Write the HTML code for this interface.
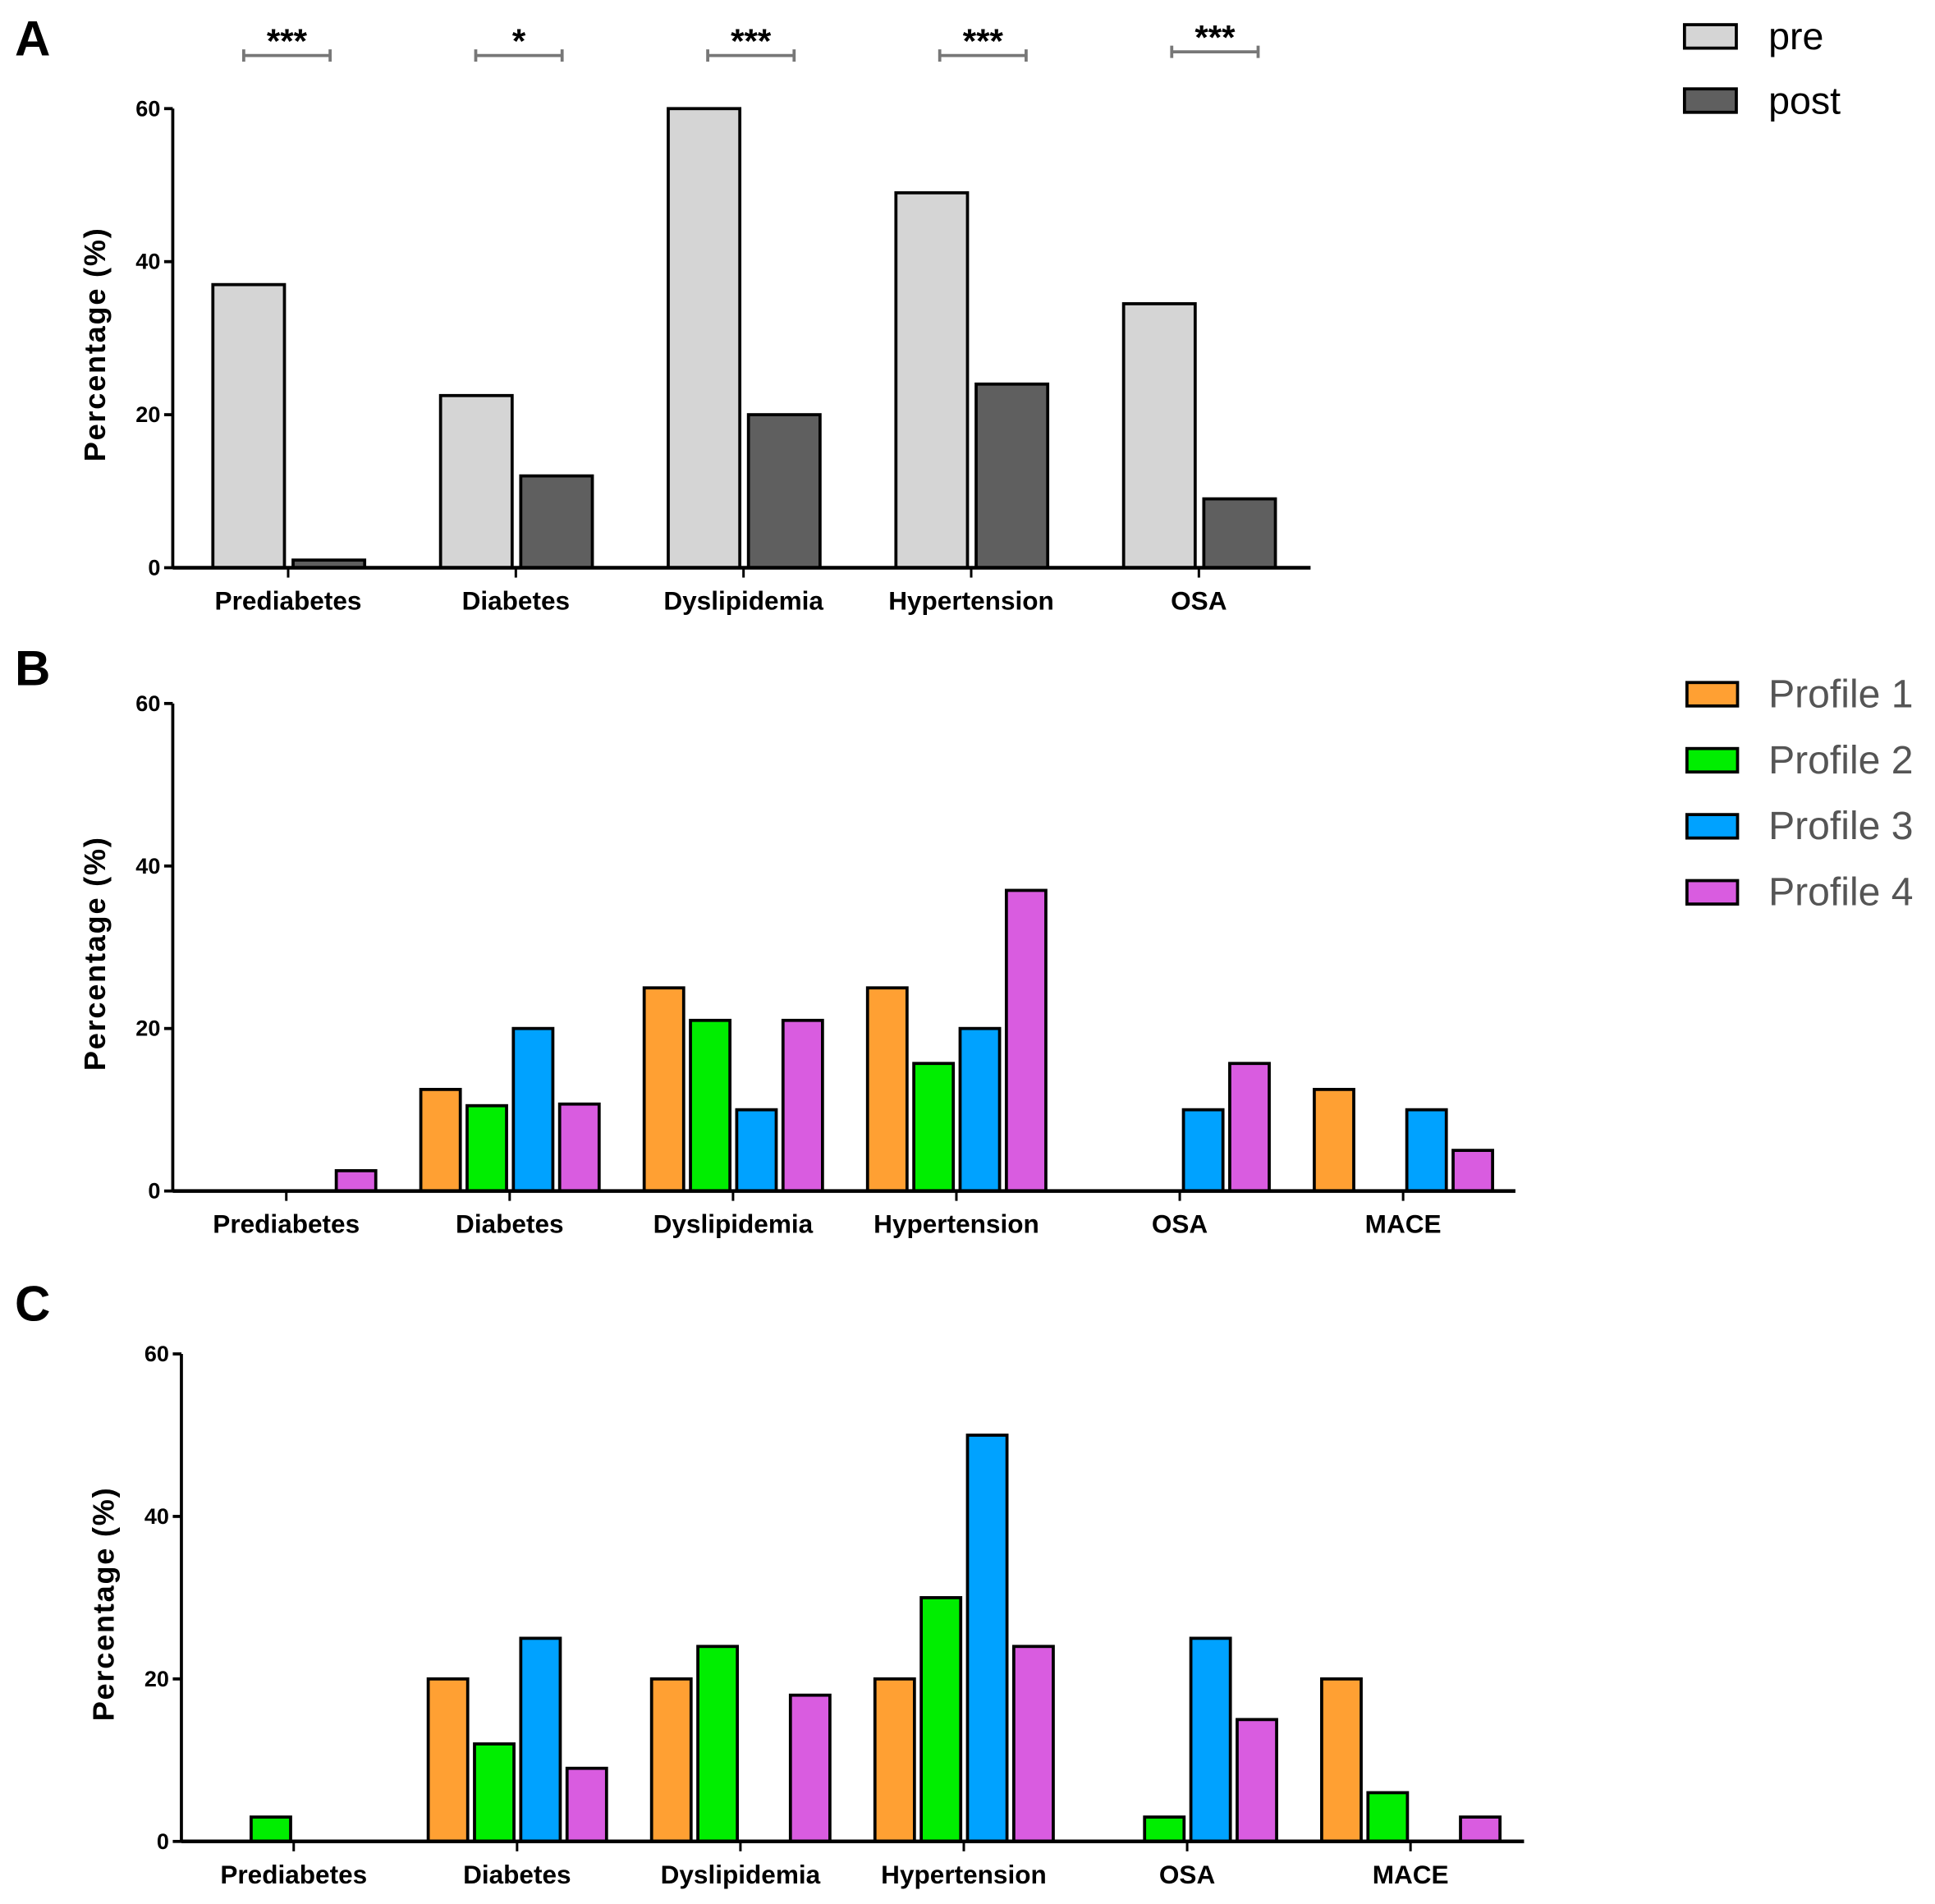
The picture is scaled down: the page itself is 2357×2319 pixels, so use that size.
<!DOCTYPE html>
<html><head><meta charset="utf-8"><style>
html,body{margin:0;padding:0;background:#fff;}
svg{display:block;font-family:"Liberation Sans",Arial,sans-serif;}
</style></head><body>
<svg id="chart" width="2357" height="2319" viewBox="0 0 1568 1542.7" preserveAspectRatio="none" xmlns="http://www.w3.org/2000/svg"></svg>
<script>
const catsA = ["Prediabetes","Diabetes","Dyslipidemia","Hypertension","OSA"];
const preVals = [37, 22.5, 60, 49, 34.5];
const postVals = [1, 12, 20, 24, 9];
const sigLabels = ["***","*","***","***","***"];
const cats6 = ["Prediabetes","Diabetes","Dyslipidemia","Hypertension","OSA","MACE"];
const profileNames = ["Profile 1","Profile 2","Profile 3","Profile 4"];
const b1 = [0, 12.5, 25, 25, 0, 12.5];
const b2 = [0, 10.5, 21, 15.7, 0, 0];
const b3 = [0, 20, 10, 20, 10, 10];
const b4 = [2.5, 10.7, 21, 37, 15.7, 5];
const c1 = [0, 20, 20, 20, 0, 20];
const c2 = [3, 12, 24, 30, 3, 6];
const c3 = [0, 25, 0, 50, 25, 0];
const c4 = [0, 9, 18, 24, 15, 3];
const yTicks = [0, 20, 40, 60];

const NS = "http://www.w3.org/2000/svg";
const svg = document.getElementById("chart");
function mk(tag, attrs, parent, text) {
  const e = document.createElementNS(NS, tag);
  for (const k in attrs) e.setAttribute(k, attrs[k]);
  if (text !== undefined) e.textContent = text;
  (parent || svg).appendChild(e);
  return e;
}

function panel(cfg) {
  const g = mk("g", {});
  
  
  const y = v => cfg.y0 - (v / 60) * (cfg.y0 - cfg.y60);
  const xc = i => cfg.c0 + i * cfg.step;
  const L = mk("text", {x: 12, y: cfg.letterY, "font-size": 40, "font-weight": "bold"}, g, cfg.letter);
  
  
  const t = mk("text", {transform: `translate(${cfg.axX - 55},${(cfg.y0 + cfg.y60) / 2 + 5}) rotate(-90)`, "text-anchor": "middle", "font-size": 24, "font-weight": "bold", "letter-spacing": 1.2}, g, "Percentage (%)");
  
  
  cfg.series.forEach((vals, s) => {
    vals.forEach((v, i) => {
      if (v <= 0) return;
      const x = xc(i) + cfg.offsets[s] - cfg.bw / 2;
      const r = mk("rect", {x: x, y: y(v), width: cfg.bw, height: cfg.y0 - y(v), fill: cfg.colors[s], stroke: "#000", "stroke-width": 2.5}, g);
      
      
    });
  });
  const ya = mk("line", {x1: cfg.axX, y1: cfg.y60, x2: cfg.axX, y2: cfg.y0, stroke: "#000", "stroke-width": 2.5}, g);
  
  
  const xa = mk("line", {x1: cfg.axX, y1: cfg.y0, x2: cfg.axEnd, y2: cfg.y0, stroke: "#000", "stroke-width": 3}, g);
  
  
  yTicks.forEach(v => {
    mk("line", {x1: cfg.axX - 7, y1: y(v), x2: cfg.axX, y2: y(v), stroke: "#000", "stroke-width": 2.5}, g);
    const tl = mk("text", {x: cfg.axX - 10, y: y(v) + 6, "text-anchor": "end", "font-size": 18, "font-weight": "bold"}, g, v);
    
    
  });
  cfg.cats.forEach((c, i) => {
    mk("line", {x1: xc(i), y1: cfg.y0, x2: xc(i), y2: cfg.y0 + 8, stroke: "#000", "stroke-width": 2}, g);
    const cl = mk("text", {x: xc(i), y: cfg.y0 + 34, "text-anchor": "middle", "font-size": 21, "font-weight": "bold"}, g, c);
    
    
  });
  return {g, y, xc};
}

const pa = panel({name: "panel-a", letter: "A", letterY: 45, axX: 140, axEnd: 1062, y0: 460, y60: 88,
  c0: 233.5, step: 184.5, bw: 58, offsets: [-32, 33], cats: catsA,
  series: [preVals, postVals], colors: ["#d5d5d5", "#5f5f5f"]});
sigLabels.forEach((s, i) => {
  const cx = pa.xc(i) + i * 3.5 - 1;
  const yy = i === 4 ? 42 : 45;
  const l = mk("path", {d: `M${cx-35},${yy-5}V${yy+5}M${cx-35},${yy}H${cx+35}M${cx+35},${yy-5}V${yy+5}`, stroke: "#777", "stroke-width": 2.5, fill: "none"}, pa.g);
  
  
  const st = mk("text", {x: cx, y: yy - 2, "text-anchor": "middle", "font-size": 28, "font-weight": "bold"}, pa.g, s);
  
  
});
[["pre", "#d5d5d5", 29], ["post", "#5f5f5f", 81]].forEach(([n, c, yy]) => {
  const r = mk("rect", {x: 1365, y: yy - 9, width: 42, height: 19, fill: c, stroke: "#000", "stroke-width": 2.5});
  
  
  const t = mk("text", {x: 1433, y: yy + 11, "font-size": 31}, svg, n);
  
  
});

const pcols = ["#ffa033", "#00ee00", "#00a2ff", "#d95ce0"];
const offs = [-56, -18.5, 19, 56.5];
panel({name: "panel-b", letter: "B", letterY: 555, axX: 140, axEnd: 1228, y0: 965, y60: 570,
  c0: 232, step: 181, bw: 32, offsets: offs, cats: cats6, series: [b1, b2, b3, b4], colors: pcols});
panel({name: "panel-c", letter: "C", letterY: 1070, axX: 147, axEnd: 1235, y0: 1492, y60: 1097,
  c0: 238, step: 181, bw: 32, offsets: offs, cats: cats6, series: [c1, c2, c3, c4], colors: pcols});

profileNames.forEach((n, i) => {
  const yy = 562 + i * 53.5;
  const r = mk("rect", {x: 1367, y: yy - 9, width: 41, height: 19, fill: pcols[i], stroke: "#000", "stroke-width": 2.5});
  
  
  const t = mk("text", {x: 1433, y: yy + 11, "font-size": 32, fill: "#555"}, svg, n);
  
  
});
</script>
</body></html>
